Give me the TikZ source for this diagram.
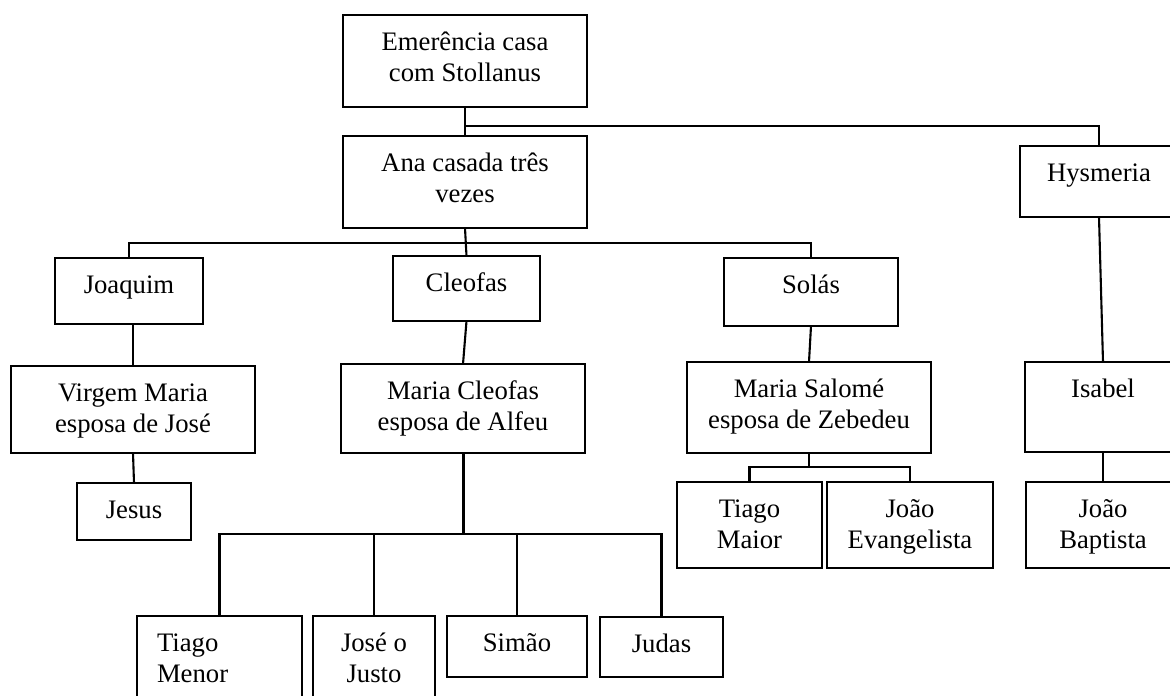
\documentclass[tikz,border=0pt]{standalone}
\usepackage{fontspec}
\setmainfont{Liberation Serif}
\usepackage{array}
\tikzset{
  famrect/.style={draw=black, line width=2.1pt, fill=none, inner sep=0pt, outer sep=0pt},
  famtxt/.style={anchor=base, inner sep=0pt, outer sep=0pt, font=\fontsize{26.7}{31}\selectfont},
  conn/.style={draw=black, line width=2.1pt},
  thickconn/.style={draw=black, line width=3pt}
}
\newcommand\famnode[6]{%
  \node[famrect, minimum width={(#4-#2)*1pt}, minimum height={(#5-#3)*1pt}] (#1) at ({(#2+#4)/2},{(#3+#5)/2}) {};
  \node[famtxt] (#1-t) at ([yshift=-35.5pt]#1.north) {\begin{tabular}[t]{@{}c@{}}#6\end{tabular}};}
\begin{document}
\begin{tikzpicture}[x=1pt,y=-1pt]
\path[use as bounding box] (0,0) rectangle (1170,696);
\clip (0,0) rectangle (1170,696);
\fill[white] (0,0) rectangle (1170,696);
\famnode{em}{343}{15}{587}{107}{Emerência casa\\com Stollanus}
\famnode{ana}{343}{136}{587}{228}{Ana casada três\\vezes}
\famnode{hys}{1020}{146}{1178}{217}{Hysmeria}
\famnode{joa}{55}{258}{203}{324}{Joaquim}
\famnode{cle}{393}{256}{540}{321}{Cleofas}
\famnode{sol}{724}{258}{898}{326}{Solás}
\famnode{vm}{11}{366}{255}{453}{Virgem Maria\\esposa de José}
\famnode{mc}{341}{364}{585}{453}{Maria Cleofas\\esposa de Alfeu}
\famnode{ms}{687}{362}{931}{453}{Maria Salomé\\esposa de Zebedeu}
\famnode{isa}{1025}{362}{1181}{452}{Isabel}
\famnode{jes}{77}{483}{191}{540}{Jesus}
\famnode{tmai}{677}{482}{822}{568}{Tiago\\Maior}
\famnode{je}{827}{482}{993}{568}{João\\Evangelista}
\famnode{jb}{1026}{482}{1180}{568}{João\\Baptista}
\node[famrect, minimum width=165pt, minimum height=94pt] (tmen) at (219.5,663) {};
\node[famtxt, anchor=base west] (tmen-t) at ([xshift=20pt,yshift=-35.5pt]tmen.north west) {\begin{tabular}[t]{@{}l@{}}Tiago\\Menor\end{tabular}};
\famnode{jose}{313}{616}{435}{710}{José o\\Justo}
\famnode{sim}{447}{616}{587}{677}{Simão}
\famnode{jud}{600}{617}{723}{677}{Judas}
% connectors
\coordinate (j1) at (465,126);
\coordinate (j2) at (465,243);
\coordinate (j3) at (463,534);
\coordinate (j4) at (809,467);
\draw[conn] (em.south) -- (ana.north);
\draw[conn] (j1) -| (hys.north);
\draw[conn] (ana.south) -- (cle.north);
\draw[conn] (joa.north) |- (sol.north |- j2) -- (sol.north);
\draw[conn] (joa.south -| vm.north) -- (vm.north);
\draw[conn] (cle.south) -- (mc.north);
\draw[conn] (sol.south) -- (ms.north);
\draw[conn] (hys.south) -- (isa.north);
\draw[conn] (vm.south) -- (jes.north);
\draw[thickconn] (mc.south) -- (j3);
\draw[conn] (tmen.north) |- (jud.north |- j3) -- (jud.north);
\draw[conn] (jose.north) -- (jose.north |- j3);
\draw[conn] (sim.north) -- (sim.north |- j3);
\draw[conn] (ms.south) -- (j4);
\draw[conn] (tmai.north) |- (je.north |- j4) -- (je.north);
\draw[conn] (isa.south) -- (jb.north);
\end{tikzpicture}
\end{document}
